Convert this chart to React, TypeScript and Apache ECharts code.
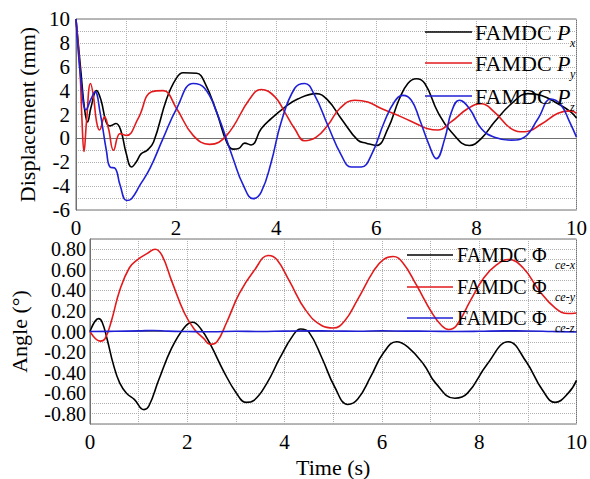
import React, { useEffect, useRef } from "react";
import * as echarts from "echarts";

// ---- Data (time in s) ----
const pxT = [0, 0.1, 0.17, 0.23, 0.3, 0.41, 0.5, 0.6, 0.68, 0.8, 0.9, 1.0, 1.11, 1.2, 1.3, 1.42, 1.55, 1.81, 2.0, 2.14, 2.41, 2.57, 2.81, 3.01, 3.14, 3.25, 3.37, 3.5, 3.7, 3.9, 4.17, 4.43, 4.8, 5.03, 5.3, 5.63, 5.8, 6.0, 6.23, 6.46, 6.63, 6.8, 6.97, 7.23, 7.5, 7.86, 8.1, 8.36, 8.7, 9.03, 9.3, 9.63, 9.89, 10];
const pxV = [10, 5.5, 2.5, 1.37, 2.6, 4.0, 3.2, 1.4, 1.05, 1.25, 0.6, -1.2, -2.4, -2.0, -1.3, -1.0, -0.3, 3.3, 5.0, 5.5, 5.45, 4.7, 2.2, -0.3, -0.9, -0.85, -0.4, -0.55, 0.8, 1.65, 2.6, 3.3, 3.75, 3.2, 1.65, -0.15, -0.4, -0.6, 0.8, 3.3, 4.6, 5.0, 4.6, 2.2, 0.53, -0.6, 0.0, 1.37, 2.9, 3.75, 3.6, 2.9, 2.2, 1.7];

const pyT = [0, 0.08, 0.12, 0.16, 0.21, 0.29, 0.35, 0.41, 0.47, 0.57, 0.65, 0.75, 0.88, 1.01, 1.24, 1.51, 1.74, 2.01, 2.34, 2.67, 3.01, 3.47, 3.7, 3.97, 4.17, 4.37, 4.57, 4.8, 5.03, 5.27, 5.57, 5.83, 6.1, 6.5, 6.86, 7.03, 7.23, 7.5, 7.83, 8.1, 8.36, 8.7, 8.96, 9.3, 9.63, 9.89, 10];
const pyV = [10, 5.6, 1.5, -1.1, 1.4, 4.6, 3.5, 1.4, 0.7, 1.8, 0.8, -1.0, 0.4, 0.25, 1.65, 3.9, 4.0, 2.5, 0.25, -0.5, 0.25, 3.3, 4.1, 3.5, 2.2, 0.8, -0.2, 0.1, 1.1, 2.5, 3.2, 3.05, 2.5, 1.8, 1.1, 0.8, 0.7, 1.4, 2.5, 2.9, 2.2, 0.8, 0.55, 1.2, 2.1, 2.3, 2.1];

const pzT = [0, 0.11, 0.2, 0.3, 0.38, 0.48, 0.61, 0.68, 0.78, 0.88, 1.01, 1.11, 1.28, 1.48, 1.74, 2.01, 2.34, 2.57, 2.81, 3.14, 3.34, 3.54, 3.7, 3.9, 4.1, 4.37, 4.57, 4.77, 5.03, 5.3, 5.5, 5.7, 5.9, 6.16, 6.36, 6.53, 6.7, 6.86, 7.05, 7.2, 7.37, 7.5, 7.66, 7.86, 8.1, 8.36, 8.7, 8.96, 9.23, 9.49, 9.69, 9.86, 10];
const pzV = [10, 4.4, 2.4, 3.3, 3.9, 2.2, -1.1, -2.4, -2.5, -3.9, -5.2, -5.05, -3.9, -2.5, 0.0, 2.5, 4.6, 4.2, 2.2, -1.7, -3.9, -5.05, -4.5, -2.0, 1.37, 4.2, 4.6, 3.6, 1.1, -1.4, -2.4, -2.4, -1.4, 1.37, 3.05, 3.6, 3.2, 1.65, -0.5, -1.7, 0, 2.2, 3.2, 2.5, 0.8, 0.1, -0.15, 0.1, 1.65, 3.3, 2.8, 1.4, 0.1];

const fxT = [0, 0.18, 0.25, 0.35, 0.48, 0.61, 0.75, 0.91, 1.11, 1.21, 1.41, 1.68, 1.94, 2.11, 2.28, 2.48, 2.74, 3.01, 3.21, 3.37, 3.64, 3.9, 4.17, 4.33, 4.5, 4.77, 5.03, 5.3, 5.5, 5.77, 6.03, 6.3, 6.53, 6.86, 7.1, 7.5, 7.76, 8.16, 8.6, 8.96, 9.3, 9.56, 9.83, 10];
const fxV = [0, 0.125, 0.09, -0.07, -0.32, -0.5, -0.6, -0.66, -0.76, -0.725, -0.475, -0.16, 0.04, 0.09, 0.025, -0.13, -0.38, -0.6, -0.69, -0.67, -0.5, -0.26, -0.04, 0.025, -0.006, -0.26, -0.54, -0.71, -0.66, -0.44, -0.21, -0.1, -0.15, -0.32, -0.5, -0.65, -0.6, -0.32, -0.1, -0.29, -0.57, -0.69, -0.6, -0.475];

const fyT = [0, 0.21, 0.31, 0.45, 0.61, 0.81, 0.98, 1.18, 1.34, 1.48, 1.68, 1.94, 2.14, 2.34, 2.47, 2.61, 2.81, 3.07, 3.37, 3.67, 3.84, 4.1, 4.43, 4.77, 5.0, 5.23, 5.5, 5.83, 6.03, 6.23, 6.43, 6.7, 7.03, 7.23, 7.37, 7.53, 7.83, 8.1, 8.36, 8.6, 8.9, 9.23, 9.56, 9.83, 10];
const fyV = [0, -0.094, -0.07, 0.12, 0.4, 0.62, 0.7, 0.76, 0.8, 0.74, 0.49, 0.18, 0.025, -0.07, -0.125, -0.1, 0.09, 0.37, 0.59, 0.74, 0.7, 0.49, 0.21, 0.056, 0.034, 0.1, 0.31, 0.59, 0.7, 0.73, 0.67, 0.46, 0.18, 0.056, 0.02, 0.056, 0.31, 0.525, 0.65, 0.7, 0.62, 0.4, 0.23, 0.175, 0.18];

const fzT = [0, 0.5, 1, 1.3, 1.6, 2, 2.5, 3, 3.5, 4, 4.5, 5, 5.5, 6, 6.5, 7, 7.5, 8, 8.5, 9, 9.5, 10];
const fzV = [0, 0.002, 0.006, 0.01, 0.004, 0.0, -0.003, 0.002, 0.0, 0.004, 0.006, 0.005, 0.002, 0.007, 0.004, 0.003, 0.0, 0.002, 0.006, 0.005, 0.0, -0.005];

const xTicks = [0, 2, 4, 6, 8, 10];
const dispTicks = [-6, -4, -2, 0, 2, 4, 6, 8, 10];
const angleTicks = [-0.8, -0.6, -0.4, -0.2, 0, 0.2, 0.4, 0.6, 0.8];
const topLegend = [
  { sym: "P", sub: "x", color: "#000000" },
  { sym: "P", sub: "y", color: "#e31a1c" },
  { sym: "P", sub: "z", color: "#1f1fd6" },
];
const botLegend = [
  { sym: "Φ", sub: "ce-x", color: "#000000" },
  { sym: "Φ", sub: "ce-y", color: "#e31a1c" },
  { sym: "Φ", sub: "ce-z", color: "#1f1fd6" },
];

const FONT = "Liberation Serif";

const zip = (t: number[], v: number[]) => t.map((x, i) => [x, v[i]]);

export default function App() {
  const ref = useRef<HTMLDivElement>(null);
  useEffect(() => {
    if (!ref.current) return;
    const chart = echarts.init(ref.current, null, { renderer: "svg" });
    const gridLine = { show: true, lineStyle: { color: "#b0b0b0", type: "dotted" as const, width: 1 } };
    const axisLineStyle = { show: true, lineStyle: { color: "#707070", width: 1 } };
    const xAxisBase = (gi: number, name: string) => ({
      type: "value" as const,
      gridIndex: gi,
      min: 0,
      max: 10,
      interval: 1,
      name,
      nameLocation: "middle" as const,
      nameGap: 32,
      nameTextStyle: { fontFamily: FONT, fontSize: 22, color: "#000" },
      axisLine: axisLineStyle,
      axisTick: { show: false },
      splitLine: gridLine,
      axisLabel: {
        fontFamily: FONT,
        fontSize: 21,
        color: "#000",
        margin: 7,
        customValues: xTicks,
        formatter: (v: number) => String(Math.round(v)),
      },
    });
    const mk = (name: string, t: number[], v: number[], color: string, xi: number) => ({
      name,
      type: "line" as const,
      xAxisIndex: xi,
      yAxisIndex: xi,
      data: zip(t, v),
      showSymbol: false,
      smooth: 0.45,
      lineStyle: { color, width: 1.6 },
      itemStyle: { color },
    });

    const legendGraphics: any[] = [];
    const addLegend = (items: any[], fs: number, x0: number, x1: number, tx: number, symX: number, subX: number, ys: number[], subDy: number) => {
      items.forEach((it, i) => {
        const y = ys[i];
        legendGraphics.push({ type: "line", shape: { x1: x0, y1: y, x2: x1, y2: y }, style: { stroke: it.color, lineWidth: 1.6 }, z: 100 });
        legendGraphics.push({ type: "text", x: tx, y, style: { text: "FAMDC", fontFamily: FONT, fontSize: fs, fill: "#000", verticalAlign: "middle" }, z: 100 });
        legendGraphics.push({ type: "text", x: symX, y, style: { text: it.sym, fontFamily: FONT, fontSize: fs, fontStyle: it.sym === "P" ? "italic" : "normal", fill: "#000", verticalAlign: "middle" }, z: 100 });
        legendGraphics.push({ type: "text", x: subX, y: y + subDy, style: { text: it.sub, fontFamily: FONT, fontSize: 12, fontStyle: "italic", fill: "#000", verticalAlign: "middle" }, z: 100 });
      });
    };
    addLegend(topLegend, 22, 425, 472, 475, 557, 570, [32, 63, 96], 11);
    addLegend(botLegend, 20, 407, 453, 457, 532, 555, [255, 287, 318], 10);

    chart.setOption({
      animation: false,
      backgroundColor: "#ffffff",
      textStyle: { fontFamily: FONT },
      grid: [
        { left: 76, width: 501, top: 19, height: 191, show: true, borderColor: "#707070", borderWidth: 1, backgroundColor: "transparent" },
        { left: 76, width: 501, top: 239, height: 191, show: true, borderColor: "#707070", borderWidth: 1, backgroundColor: "transparent" },
      ],
      xAxis: [xAxisBase(0, ""), xAxisBase(1, "Time (s)")],
      yAxis: [
        {
          type: "value",
          gridIndex: 0,
          min: -6,
          max: 10,
          interval: 1,
          name: "Displacement (mm)",
          nameLocation: "middle",
          nameGap: 28,
          nameTextStyle: { fontFamily: FONT, fontSize: 22, color: "#000" },
          axisLine: axisLineStyle,
          axisTick: { show: false },
          splitLine: gridLine,
          axisLabel: {
            fontFamily: FONT,
            fontSize: 21,
            lineHeight: 19,
            color: "#000",
            margin: 6,
            customValues: dispTicks,
            formatter: (v: number) => String(Math.round(v)),
          },
        },
        {
          type: "value",
          gridIndex: 1,
          min: -0.9,
          max: 0.9,
          interval: 0.1,
          name: "Angle (°)",
          nameLocation: "middle",
          nameGap: 60,
          nameTextStyle: { fontFamily: FONT, fontSize: 22, color: "#000" },
          axisLine: axisLineStyle,
          axisTick: { show: false },
          splitLine: gridLine,
          axisLabel: {
            fontFamily: FONT,
            fontSize: 20,
            lineHeight: 17,
            color: "#000",
            margin: 4,
            hideOverlap: false,
            showMinLabel: true,
            showMaxLabel: true,
            customValues: angleTicks,
            formatter: (v: number) => (Math.round(v * 10) / 10).toFixed(2),
          },
        },
      ],
      series: [
        mk("FAMDC Px", pxT, pxV, topLegend[0].color, 0),
        mk("FAMDC Py", pyT, pyV, topLegend[1].color, 0),
        mk("FAMDC Pz", pzT, pzV, topLegend[2].color, 0),
        mk("FAMDC Φce-x", fxT, fxV, botLegend[0].color, 1),
        mk("FAMDC Φce-y", fyT, fyV, botLegend[1].color, 1),
        mk("FAMDC Φce-z", fzT, fzV, botLegend[2].color, 1),
      ],
      graphic: legendGraphics,
    });
    return () => chart.dispose();
  }, []);
  return <div ref={ref} style={{ position: "fixed", left: 0, top: 0, width: 590, height: 479 }} />;
}
